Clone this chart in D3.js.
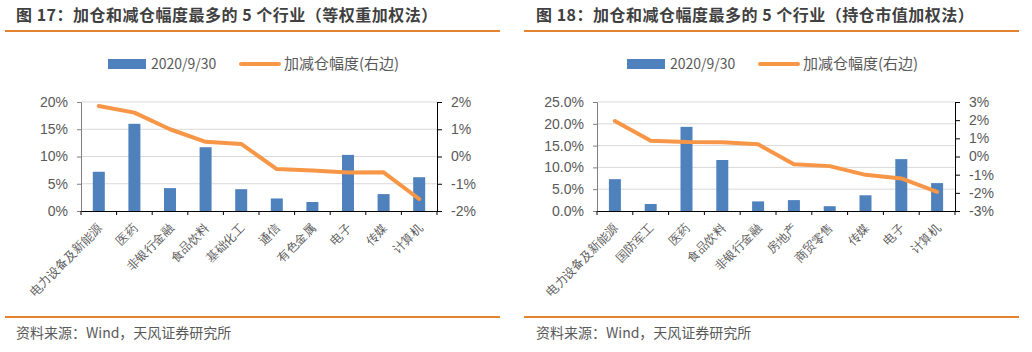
<!DOCTYPE html>
<html lang="zh">
<head>
    <meta charset="UTF-8">
    <title>加仓和减仓幅度最多的 5 个行业</title>
    <script src="https://d3js.org/d3.v7.min.js"></script>
    <style>
        body { margin: 0; background: #fff; }
        svg { display: block; font-family: "Noto Sans CJK SC", "Noto Sans", sans-serif; }
    </style>
</head>
<body>
<svg width="1032" height="352"></svg>
<script>
    // 图 17 数据（等权重加权法）
    const cats17 = ["电力设备及新能源", "医药", "非银行金融", "食品饮料", "基础化工", "通信", "有色金属", "电子", "传媒", "计算机"];
    const bars17 = [7.2, 16.0, 4.2, 11.7, 4.0, 2.3, 1.65, 10.3, 3.1, 6.2];
    const line17 = [1.85, 1.61, 1.0, 0.54, 0.46, -0.46, -0.51, -0.59, -0.58, -1.56];
    const leftTicks17 = [0, 5, 10, 15, 20];
    const rightTicks17 = [-2, -1, 0, 1, 2];

    // 图 18 数据（持仓市值加权法）
    const cats18 = ["电力设备及新能源", "国防军工", "医药", "食品饮料", "非银行金融", "房地产", "商贸零售", "传媒", "电子", "计算机"];
    const bars18 = [7.3, 1.6, 19.3, 11.7, 2.2, 2.5, 1.1, 3.6, 11.9, 6.4];
    const line18 = [1.95, 0.87, 0.8, 0.79, 0.67, -0.42, -0.53, -1.01, -1.21, -1.95];
    const leftTicks18 = [0, 5, 10, 15, 20, 25];
    const rightTicks18 = [-3, -2, -1, 0, 1, 2, 3];

    const legendNames = ["2020/9/30", "加减仓幅度(右边)"];
    const blue = "#4F81BD", orange = "#F79646", rule = "#E3822F", textColor = "#595959";

    const svg = d3.select("svg");

    function drawPanel(ox, p) {
        const g = svg.append("g").attr("transform", `translate(${ox},0)`);

        // 标题和分隔线
        g.append("text")
            .attr("x", p.titleX).attr("y", 21)
            .attr("font-size", 16).attr("font-weight", "bold")
            .attr("letter-spacing", 0.5)
            .attr("fill", "#404040")
            .text(p.title);
        g.append("line").attr("x1", p.ruleX1).attr("x2", p.ruleX2)
            .attr("y1", 31).attr("y2", 31)
            .attr("stroke", rule).attr("stroke-width", 2);
        g.append("line").attr("x1", p.ruleX1).attr("x2", p.ruleX2)
            .attr("y1", 317).attr("y2", 317)
            .attr("stroke", rule).attr("stroke-width", 2);
        g.append("text")
            .attr("x", p.titleX).attr("y", 338)
            .attr("font-size", 14).attr("fill", textColor)
            .text("资料来源：Wind，天风证券研究所");

        // 图例
        const lg = g.append("g").attr("transform", `translate(${p.legendX},0)`);
        lg.append("rect").attr("x", 0).attr("y", 59).attr("width", 38).attr("height", 10).attr("fill", blue);
        lg.append("text").attr("x", 43).attr("y", 69).attr("font-size", 14).attr("fill", textColor).text(legendNames[0]);
        lg.append("line").attr("x1", 133).attr("x2", 171).attr("y1", 64).attr("y2", 64)
            .attr("stroke", orange).attr("stroke-width", 4).attr("stroke-linecap", "round");
        lg.append("text").attr("x", 176).attr("y", 69).attr("font-size", 15).attr("fill", textColor).text(legendNames[1]);

        // 比例尺
        const x = d3.scaleBand().domain(p.cats).range([p.left, p.right]);
        const yL = d3.scaleLinear().domain(d3.extent(p.leftTicks)).range([211, 102]);
        const yR = d3.scaleLinear().domain(d3.extent(p.rightTicks)).range([211, 102]);

        // 网格线
        g.append("g").selectAll("line")
            .data(p.leftTicks.slice(1))
            .join("line")
            .attr("x1", p.left).attr("x2", p.right)
            .attr("y1", d => yL(d)).attr("y2", d => yL(d))
            .attr("stroke", "#D9D9D9").attr("stroke-width", 1);

        // 柱
        g.append("g").selectAll("rect")
            .data(p.bars)
            .join("rect")
            .attr("x", (d, i) => x(p.cats[i]) + x.bandwidth() / 2 - 6)
            .attr("width", 12)
            .attr("y", d => yL(d))
            .attr("height", d => yL(0) - yL(d))
            .attr("fill", blue);

        // 左轴
        const axL = g.append("g").attr("transform", `translate(${p.left},0)`)
            .call(d3.axisLeft(yL).tickValues(p.leftTicks).tickSize(4).tickPadding(9).tickFormat(p.leftFmt));
        axL.select(".domain").attr("stroke", "#7F7F7F");
        axL.selectAll(".tick line").attr("stroke", "#7F7F7F");
        axL.selectAll("text").attr("font-size", 14).attr("fill", textColor).attr("font-family", null);

        // 右轴
        const axR = g.append("g").attr("transform", `translate(${p.right},0)`)
            .call(d3.axisRight(yR).tickValues(p.rightTicks).tickSize(5).tickPadding(9).tickFormat(d => d + "%"));
        axR.select(".domain").attr("stroke", "#000");
        axR.selectAll("text").attr("font-size", 14).attr("fill", textColor).attr("font-family", null);

        // 底轴
        const axB = g.append("g").attr("transform", "translate(0,211)")
            .call(d3.axisBottom(x).tickSize(0).tickPadding(0));
        axB.select(".domain").attr("stroke", "#000");
        axB.selectAll(".tick text")
            .attr("font-size", 12).attr("fill", textColor).attr("font-family", null)
            .attr("text-anchor", "end")
            .attr("dy", null)
            .attr("transform", "translate(4,18) rotate(-45)");
        axB.append("g").selectAll("line")
            .data(p.cats.map(d => x(d)).concat([p.right]))
            .join("line")
            .attr("x1", d => d).attr("x2", d => d)
            .attr("y1", 0).attr("y2", 4)
            .attr("stroke", "#000");

        // 折线
        const line = d3.line()
            .x((d, i) => x(p.cats[i]) + x.bandwidth() / 2)
            .y(d => yR(d));
        g.append("path")
            .datum(p.line)
            .attr("d", line)
            .attr("fill", "none")
            .attr("stroke", orange)
            .attr("stroke-width", 4)
            .attr("stroke-linejoin", "round")
            .attr("stroke-linecap", "round");
    }

    drawPanel(0, {
        title: "图 17：加仓和减仓幅度最多的 5 个行业（等权重加权法）",
        titleX: 16, ruleX1: 5, ruleX2: 500, legendX: 108,
        left: 81, right: 437,
        cats: cats17, bars: bars17, line: line17,
        leftTicks: leftTicks17, rightTicks: rightTicks17,
        leftFmt: d => d + "%"
    });

    drawPanel(516, {
        title: "图 18：加仓和减仓幅度最多的 5 个行业（持仓市值加权法）",
        titleX: 20, ruleX1: 8, ruleX2: 503, legendX: 111,
        left: 81, right: 439,
        cats: cats18, bars: bars18, line: line18,
        leftTicks: leftTicks18, rightTicks: rightTicks18,
        leftFmt: d => d.toFixed(1) + "%"
    });
</script>
</body>
</html>
